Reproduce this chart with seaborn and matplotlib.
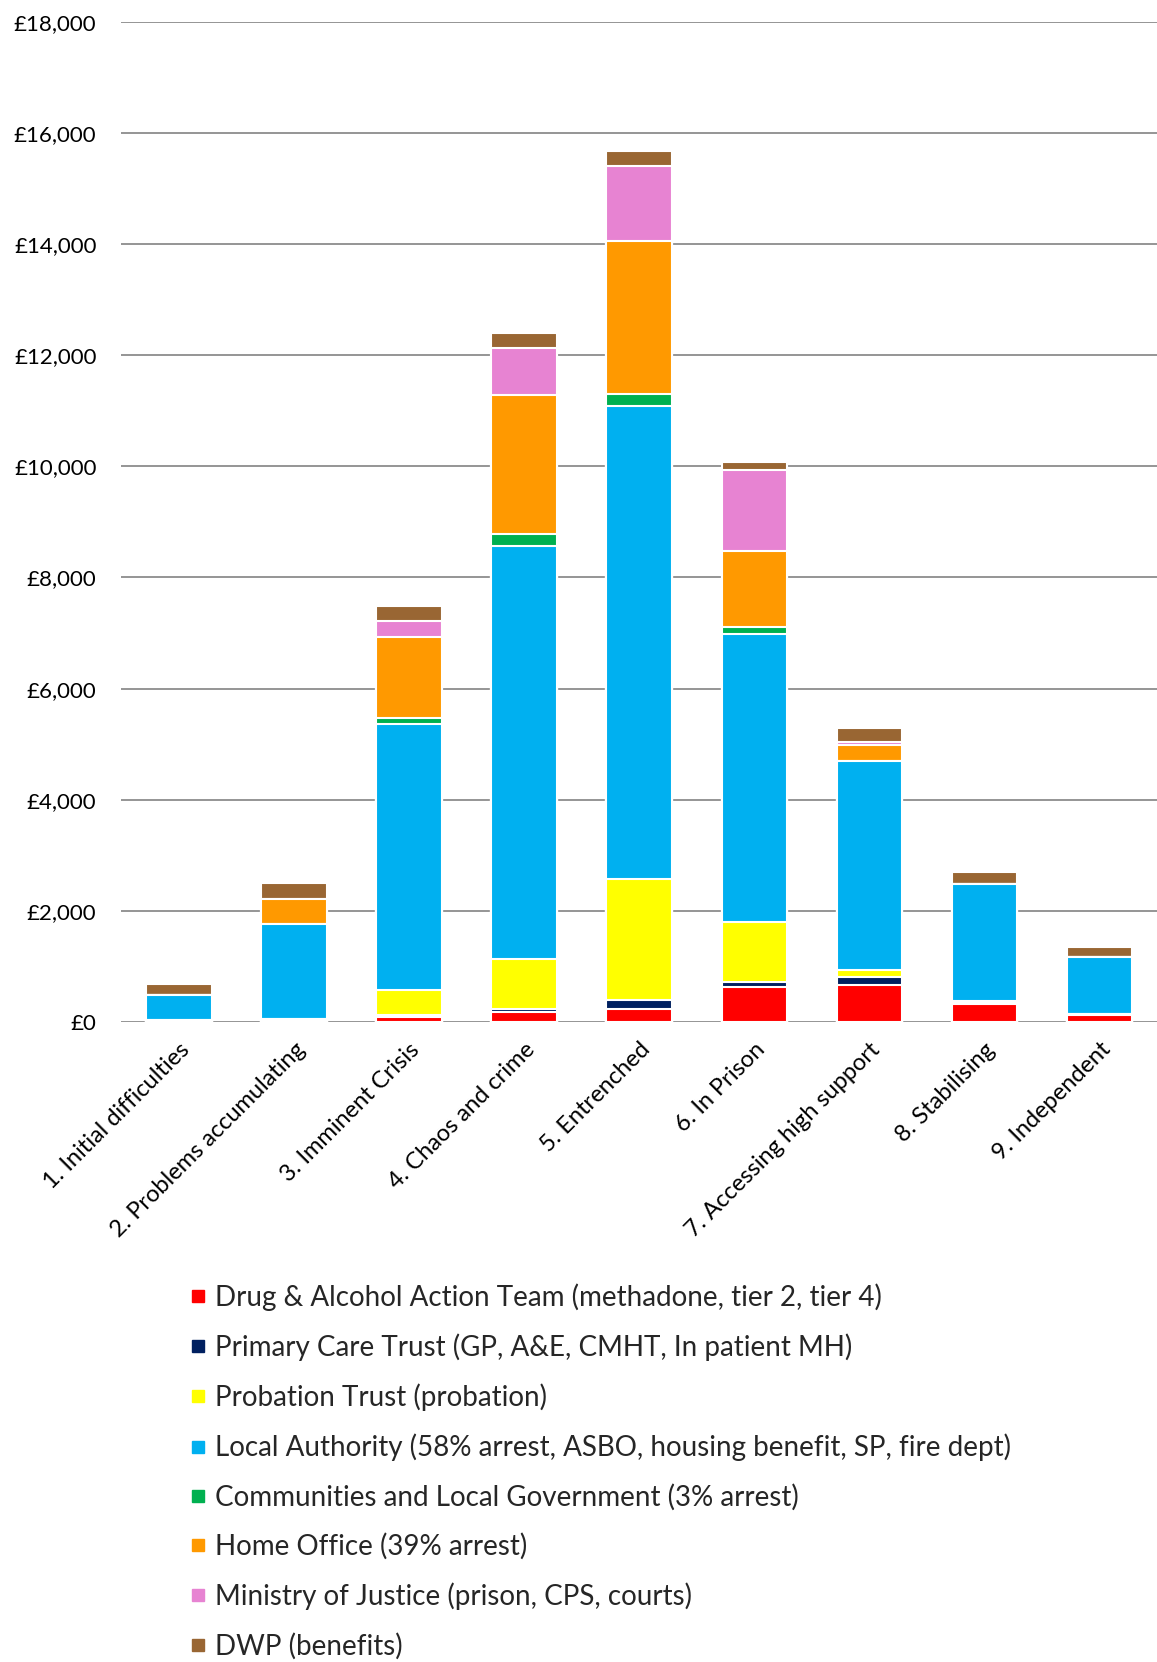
import numpy as np
import pandas as pd
import matplotlib
matplotlib.use("Agg")
import matplotlib.pyplot as plt
import seaborn as sns
from matplotlib.ticker import FuncFormatter
from matplotlib.lines import Line2D

stages = ["1. Initial difficulties", "2. Problems accumulating", "3. Imminent Crisis",
          "4. Chaos and crime", "5. Entrenched", "6. In Prison",
          "7. Accessing high support", "8. Stabilising", "9. Independent"]

series_names = [
    "Drug & Alcohol Action Team (methadone, tier 2, tier 4)",
    "Primary Care Trust (GP, A&E, CMHT, In patient MH)",
    "Probation Trust (probation)",
    "Local Authority (58% arrest, ASBO, housing benefit, SP, fire dept)",
    "Communities and Local Government (3% arrest)",
    "Home Office (39% arrest)",
    "Ministry of Justice (prison, CPS, courts)",
    "DWP (benefits)",
]

daat = [20, 30, 100, 190, 230, 630, 670, 320, 130]
pct = [10, 20, 20, 50, 170, 90, 150, 30, 10]
probation = [0, 0, 450, 900, 2170, 1090, 110, 30, 0]
local_auth = [450, 1720, 4800, 7430, 8520, 5180, 3760, 2100, 1040]
clg = [0, 0, 100, 210, 210, 110, 0, 0, 0]
home_office = [0, 450, 1460, 2500, 2760, 1380, 300, 0, 0]
moj = [0, 0, 290, 850, 1350, 1460, 50, 0, 0]
dwp = [200, 280, 260, 270, 270, 140, 260, 220, 170]

colors = ["#FF0000", "#002060", "#FFFF00", "#00B0F0", "#00B050", "#FF9900", "#E783D2", "#996633"]

series = [daat, pct, probation, local_auth, clg, home_office, moj, dwp]
df = pd.DataFrame({name: vals for name, vals in zip(series_names, series)}, index=stages)
cum = df.cumsum(axis=1)

sns.set_theme(style="white")
plt.rcParams['font.family'] = ['Lato', 'DejaVu Sans']

fig = plt.figure(figsize=(11.57, 16.62), dpi=100)
ax = fig.add_axes([0.105, 0.385, 0.895, 0.602])

# draw cumulative totals from top segment down so each overlaps the previous
for name, col in reversed(list(zip(series_names, colors))):
    d = pd.DataFrame({"stage": stages, "value": cum[name].values})
    sns.barplot(data=d, x="stage", y="value", color=col, saturation=1,
                width=0.57, edgecolor="white", linewidth=1.5, ax=ax, zorder=3)

ax.set_ylim(0, 18000)
ax.set_xlim(-0.5, 8.5)
ax.set_yticks(np.arange(0, 18001, 2000))
ax.yaxis.set_major_formatter(FuncFormatter(lambda v, p: "£{:,.0f}".format(v)))
ax.grid(axis="y", color="#8c8c8c", linewidth=1.3, zorder=0)
ax.set_axisbelow(True)
for s in ax.spines.values():
    s.set_visible(False)
ax.set_xlabel("")
ax.set_ylabel("")
ax.tick_params(axis="y", length=0, pad=18, labelsize=16, colors="black")
ax.tick_params(axis="x", length=0, pad=12, labelsize=17, colors="black")
plt.setp(ax.get_xticklabels(), rotation=45, ha="right", rotation_mode="anchor")

handles = [Line2D([0], [0], marker="s", linestyle="none", markersize=9,
                  markerfacecolor=c, markeredgecolor=c) for c in colors]
fig.legend(handles, series_names, loc="upper left", bbox_to_anchor=(0.155, 0.2345),
           frameon=False, fontsize=20, handlelength=0.55, handletextpad=0.35,
           labelspacing=0.81, borderaxespad=0)

fig.savefig("out.png", dpi=100)
